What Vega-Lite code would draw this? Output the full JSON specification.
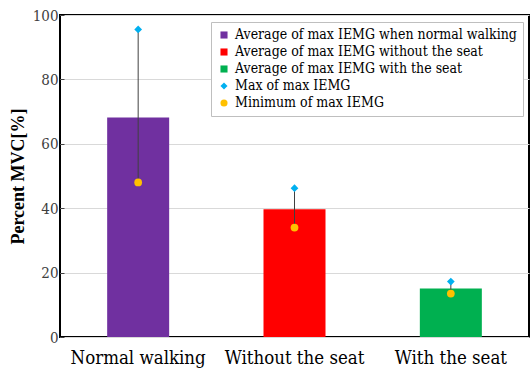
{
  "$schema": "https://vega.github.io/schema/vega-lite/v6.json",
  "width": 469,
  "height": 322,
  "autosize": {"type": "none"},
  "padding": {"left": 60, "top": 15, "right": 3, "bottom": 35},
  "background": "white",
  "config": {
    "view": {"stroke": "black", "strokeWidth": 2}
  },
  "datasets": {
    "bars": [
      {"cat": "Normal walking", "series": "Average of max IEMG when normal walking", "avg": 68.2, "max": 95.5, "min": 48},
      {"cat": "Without the seat", "series": "Average of max IEMG without the seat", "avg": 39.7, "max": 46.2, "min": 34},
      {"cat": "With the seat", "series": "Average of max IEMG with the seat", "avg": 15.1, "max": 17.2, "min": 13.5}
    ],
    "pts": [
      {"cat": "Normal walking", "series": "Max of max IEMG", "value": 95.5},
      {"cat": "Without the seat", "series": "Max of max IEMG", "value": 46.2},
      {"cat": "With the seat", "series": "Max of max IEMG", "value": 17.2},
      {"cat": "Normal walking", "series": "Minimum of max IEMG", "value": 48},
      {"cat": "Without the seat", "series": "Minimum of max IEMG", "value": 34},
      {"cat": "With the seat", "series": "Minimum of max IEMG", "value": 13.5}
    ]
  },
  "layer": [
    {
      "data": {"name": "bars"},
      "mark": {"type": "bar", "width": 62},
      "encoding": {
        "x": {
          "field": "cat", "type": "nominal", "sort": null, "title": null,
          "axis": {"labelAngle": 0, "labelFont": "DejaVu Serif Condensed", "labelFontSize": 18.5, "labelColor": "black", "ticks": false, "domain": false, "labelPadding": 11}
        },
        "y": {
          "field": "avg", "type": "quantitative",
          "scale": {"domain": [0, 100], "nice": false},
          "title": "Percent MVC[%]",
          "axis": {
            "values": [0, 10, 20, 30, 40, 50, 60, 70, 80, 90, 100],
            "labelExpr": "datum.value % 20 === 0 ? datum.label : ''",
            "labelFont": "DejaVu Serif Condensed",
            "labelFontSize": 15, "labelColor": "#404040", "labelPadding": 6,
            "tickSize": -4, "tickColor": "#404040",
            "domain": false,
            "grid": true,
            "gridColor": "#d9d9d9",
            "gridOpacity": {"condition": {"test": "datum.value % 20 === 0", "value": 1}, "value": 0},
            "titleFont": "Liberation Serif",
            "titleFontSize": 18, "titleFontWeight": "bold", "titleColor": "black", "titlePadding": 5
          }
        },
        "color": {
          "field": "series", "type": "nominal",
          "scale": {
            "domain": ["Average of max IEMG when normal walking", "Average of max IEMG without the seat", "Average of max IEMG with the seat", "Max of max IEMG", "Minimum of max IEMG"],
            "range": ["#7030A0", "#FF0000", "#00B050", "#00B0F0", "#FFC000"]
          },
          "legend": {
            "title": null,
            "orient": "none", "legendX": 151, "legendY": 7,
            "labelFont": "DejaVu Serif Condensed",
            "labelFontSize": 14, "labelColor": "black", "labelLimit": 400,
            "symbolSize": 50, "symbolStrokeWidth": 0,
            "strokeColor": "#bfbfbf", "padding": 6, "rowPadding": 3, "labelOffset": 4,
            "fillColor": "white"
          }
        }
      }
    },
    {
      "data": {"name": "bars"},
      "mark": {"type": "rule", "color": "#404040", "strokeWidth": 1},
      "encoding": {
        "x": {"field": "cat", "type": "nominal", "sort": null},
        "y": {"field": "min", "type": "quantitative"},
        "y2": {"field": "max"}
      }
    },
    {
      "data": {"name": "pts"},
      "mark": {"type": "point", "filled": true, "opacity": 1, "size": 60},
      "encoding": {
        "x": {"field": "cat", "type": "nominal", "sort": null},
        "y": {"field": "value", "type": "quantitative"},
        "color": {"field": "series", "type": "nominal"},
        "shape": {
          "field": "series", "type": "nominal",
          "scale": {
            "domain": ["Average of max IEMG when normal walking", "Average of max IEMG without the seat", "Average of max IEMG with the seat", "Max of max IEMG", "Minimum of max IEMG"],
            "range": ["square", "square", "square", "diamond", "circle"]
          },
          "legend": {
            "title": null,
            "orient": "none", "legendX": 151, "legendY": 7,
            "labelFont": "DejaVu Serif Condensed",
            "labelFontSize": 14, "labelColor": "black", "labelLimit": 400,
            "symbolSize": 50, "symbolStrokeWidth": 0,
            "strokeColor": "#bfbfbf", "padding": 6, "rowPadding": 3, "labelOffset": 4,
            "fillColor": "white"
          }
        }
      }
    }
  ]
}
